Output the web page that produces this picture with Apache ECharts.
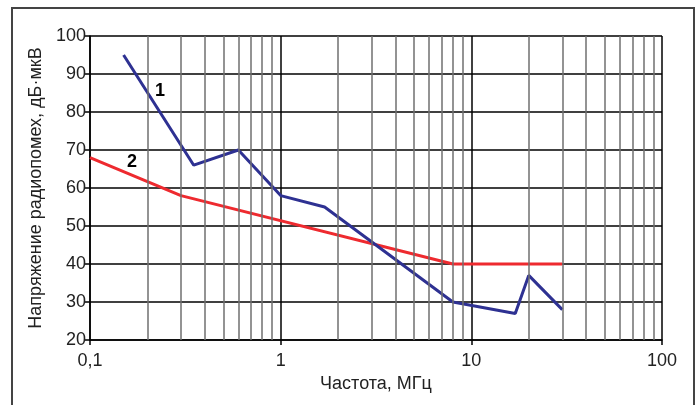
<!DOCTYPE html>
<html><head><meta charset="utf-8">
<script src="https://cdn.jsdelivr.net/npm/echarts@6/dist/echarts.min.js"></script>
<style>html,body{margin:0;padding:0;background:#fff}#c{width:698px;height:405px}</style>
</head><body><div id="c"></div>
<script>
const freq1 = [0.15, 0.35, 0.6, 1, 1.7, 8, 17, 20, 30];
const level1 = [95, 66, 70, 58, 55, 30, 27, 37, 28];
const freq2 = [0.1, 0.3, 8, 30];
const level2 = [68, 58, 40, 40];
const minorFreqs = [0.2,0.3,0.4,0.5,0.6,0.7,0.8,0.9,2,3,4,5,6,7,8,9,20,30,40,50,60,70,80,90];
const label1 = {name: '1', x: 0.233, y: 85.5};
const label2 = {name: '2', x: 0.166, y: 66.8};
const yTicks = [20,30,40,50,60,70,80,90,100];

const chart = echarts.init(document.getElementById('c'), null, {renderer: 'canvas'});
const font = 'Liberation Sans, Arial, sans-serif';
const pair = (xs, ys) => xs.map((x, i) => [x, ys[i]]);
chart.setOption({
  animation: false,
  backgroundColor: '#fff',
  graphic: [{
    type: 'rect', shape: {x: 12, y: 8, width: 682, height: 420},
    style: {fill: 'none', stroke: '#444', lineWidth: 2}, silent: true
  }],
  grid: {left: 90, right: 36, top: 36, bottom: 65},
  xAxis: {
    type: 'log', logBase: 10, min: 0.1, max: 100,
    name: 'Частота, МГц', nameLocation: 'middle', nameGap: 29,
    nameTextStyle: {fontFamily: font, fontSize: 18, color: '#222'},
    axisLine: {show: true, lineStyle: {color: '#000', width: 1.5}},
    axisTick: {show: true, length: 5, lineStyle: {color: '#000', width: 1.5}},
    axisLabel: {fontFamily: font, fontSize: 18, color: '#222', margin: 12,
      formatter: v => String(+v.toPrecision(6)).replace('.', ',')},
    splitLine: {show: true, lineStyle: {color: '#000', width: 1.5}},
    minorTick: {show: false}, minorSplitLine: {show: false}
  },
  yAxis: {
    type: 'value', min: yTicks[0], max: yTicks[yTicks.length-1], interval: 10,
    name: 'Напряжение радиопомех, дБ·мкВ', nameLocation: 'middle', nameGap: 39,
    nameTextStyle: {fontFamily: font, fontSize: 18, color: '#222'},
    axisLine: {show: true, lineStyle: {color: '#000', width: 1.5}},
    axisTick: {show: true, length: 5, lineStyle: {color: '#000', width: 1.5}},
    axisLabel: {fontFamily: font, fontSize: 18, color: '#222', margin: 4},
    splitLine: {show: true, lineStyle: {color: '#000', width: 1.5}}
  },
  series: [
    {
      type: 'line', data: [], silent: true,
      markLine: {
        silent: true, symbol: ['none', 'none'], label: {show: false},
        lineStyle: {color: '#6f6f6f', width: 1.5, type: 'solid'},
        animation: false,
        data: minorFreqs.map(f => ({xAxis: f}))
      }
    },
    {
      type: 'line', data: pair(freq2, level2), showSymbol: false, symbol: 'none',
      lineStyle: {color: '#ee2a2f', width: 3}, z: 3,
      markPoint: {symbol: 'circle', symbolSize: 0, silent: true,
        label: {show: true, position: 'inside', formatter: label2.name, fontFamily: font, fontSize: 18, fontWeight: 'bold', color: '#000'},
        data: [{coord: [label2.x, label2.y]}]}
    },
    {
      type: 'line', data: pair(freq1, level1), showSymbol: false, symbol: 'none',
      lineStyle: {color: '#2e3192', width: 3}, z: 4,
      markPoint: {symbol: 'circle', symbolSize: 0, silent: true,
        label: {show: true, position: 'inside', formatter: label1.name, fontFamily: font, fontSize: 18, fontWeight: 'bold', color: '#000'},
        data: [{coord: [label1.x, label1.y]}]}
    }
  ]
});
</script></body></html>
